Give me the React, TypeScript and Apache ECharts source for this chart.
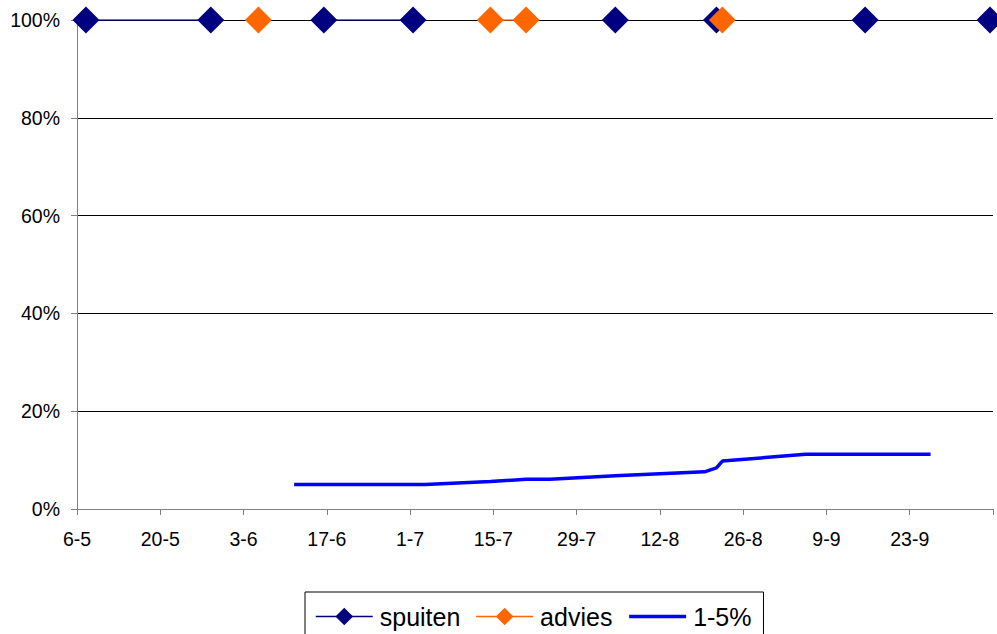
import React, { useEffect, useRef } from "react";
import * as echarts from "echarts";

// Rows of the source table (day-month), blank cells are null
const rowDates = ["7-5", "28-5", "5-6", "11-6", "16-6", "1-7", "3-7", "14-7", "20-7", "24-7", "4-8", "19-8", "21-8", "22-8", "5-9", "15-9", "26-9", "6-10"];
const spuiten: (number | null)[] = [100, 100, null, null, 100, 100, null, null, null, null, 100, null, 100, null, null, 100, null, 100];
const advies: (number | null)[] = [null, null, 100, null, null, null, null, 100, 100, null, null, null, null, 100, null, null, null, null];
const pct: (number | null)[] = [null, null, null, 5.0, null, null, 5.0, 5.6, 6.1, 6.1, 6.8, 7.6, 8.4, 9.8, 11.2, null, 11.2, null];

const axisStart = "6-5";
const axisDays = 154;
const tickStep = 14;
const yTicks = [0, 20, 40, 60, 80, 100];

const DAY = 86400000;
const YEAR = 2001;
const toMs = (s: string) => {
  const [d, m] = s.split("-").map(Number);
  return Date.UTC(YEAR, m - 1, d);
};
const base = toMs(axisStart);
const toX = (s: string) => (toMs(s) - base) / DAY + 0.5;
const fmt = (v: number) => {
  const dt = new Date(base + v * DAY);
  return `${dt.getUTCDate()}-${dt.getUTCMonth() + 1}`;
};

const withGaps = (vals: (number | null)[]) =>
  rowDates.map((d, i) => [toX(d), vals[i] == null ? "-" : vals[i]]);
const noGaps = (vals: (number | null)[]) =>
  rowDates.map((d, i) => [toX(d), vals[i]]).filter((p) => p[1] != null);

const FONT = "Liberation Sans, Arial, sans-serif";

export default function App() {
  const ref = useRef<HTMLDivElement>(null);
  useEffect(() => {
    document.body.style.margin = "0";
    const chart = echarts.init(ref.current!, null, { renderer: "svg" });
    chart.setOption({
      animation: false,
      textStyle: { fontFamily: FONT },
      grid: { left: 77, right: 4, top: 20, bottom: 125, containLabel: false },
      xAxis: {
        type: "value",
        min: 0,
        max: axisDays,
        interval: tickStep,
        splitLine: { show: false },
        axisLine: { show: true, lineStyle: { color: "#808080", width: 1 } },
        axisTick: { show: true, length: 6, lineStyle: { color: "#808080" } },
        axisLabel: {
          color: "#000",
          fontSize: 19.5,
          fontFamily: FONT,
          margin: 20,
          formatter: (v: number) => (v >= axisDays ? "" : fmt(v)),
        },
      },
      yAxis: {
        type: "value",
        min: yTicks[0],
        max: yTicks[yTicks.length - 1],
        interval: 20,
        axisLine: { show: true, lineStyle: { color: "#808080", width: 1 } },
        axisTick: { show: true, length: 6, lineStyle: { color: "#808080" } },
        splitLine: { show: true, lineStyle: { color: "#000", width: 1 } },
        axisLabel: {
          color: "#000",
          fontSize: 19.5,
          fontFamily: FONT,
          margin: 17,
          formatter: "{value}%",
        },
      },
      legend: {
        top: 592,
        left: 305,
        itemWidth: 57,
        itemHeight: 22,
        itemGap: 15,
        padding: [12, 12, 12, 10],
        borderColor: "#000",
        borderWidth: 1,
        textStyle: { color: "#000", fontSize: 25, fontFamily: FONT, padding: [0, 0, 0, 2] },
        data: [
          { name: "spuiten", lineStyle: { width: 1.5 } },
          { name: "advies", lineStyle: { width: 1.5 } },
          { name: "1-5%", itemStyle: { opacity: 0 }, lineStyle: { width: 3.5 } },
        ],
      },
      series: [
        {
          name: "1-5%",
          type: "line",
          data: noGaps(pct),
          symbol: "none",
          lineStyle: { color: "#0000FF", width: 3.5 },
          itemStyle: { color: "#0000FF" },
          z: 2,
        },
        {
          name: "spuiten",
          type: "line",
          data: withGaps(spuiten),
          connectNulls: false,
          symbol: "diamond",
          symbolSize: 27,
          lineStyle: { color: "#000080", width: 1.5 },
          itemStyle: { color: "#000080" },
          z: 3,
        },
        {
          name: "advies",
          type: "line",
          data: withGaps(advies),
          connectNulls: false,
          symbol: "diamond",
          symbolSize: 27,
          lineStyle: { color: "#FF6600", width: 1.5 },
          itemStyle: { color: "#FF6600" },
          z: 4,
        },
      ],
    });
    return () => chart.dispose();
  }, []);
  return (
    <div
      ref={ref}
      style={{ position: "absolute", left: 0, top: 0, width: 997, height: 634 }}
    />
  );
}
